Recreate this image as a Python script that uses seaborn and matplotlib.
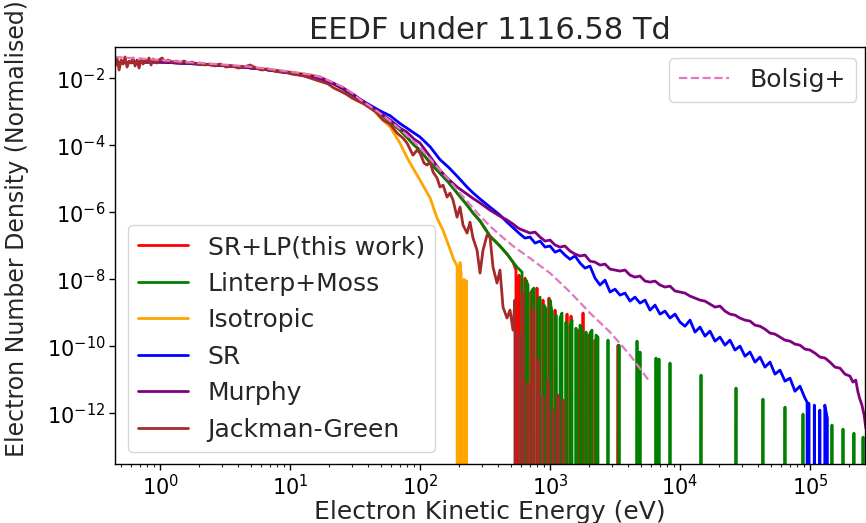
import numpy as np
import pandas as pd
import matplotlib
matplotlib.use("Agg")
import matplotlib.pyplot as plt
import seaborn as sns
from matplotlib.ticker import LogLocator, NullLocator, LogFormatterSciNotation, NullFormatter

# ---------------- data ----------------
title_text = "EEDF under 1116.58 Td"
x_label = "Electron Kinetic Energy (eV)"
y_label = "Electron Number Density (Normalised)"
series_labels = ["SR+LP(this work)", "Linterp+Moss", "Isotropic", "SR", "Murphy", "Jackman-Green"]
bolsig_label = "Bolsig+"
y_ticks = [1e-12, 1e-10, 1e-8, 1e-6, 1e-4, 1e-2]

red_E = [0.45, 0.6, 0.8, 1.0, 1.4, 2.0, 3.0, 4.3, 6.0, 8.0,
         10.5, 14, 17, 21, 25.6, 30, 35, 41, 49, 59,
         70, 79, 90, 100, 120, 142, 165, 193, 230, 256,
         290, 345, 412, 467, 519,
         547, 557, 578, 588, 642, 665, 714, 740, 794, 823,
         883, 916, 982, 1018, 1093, 1132, 1216, 1259, 1351, 1400,
         1451, 1503, 1671, 1731, 1794, 1859, 1995, 2066, 2219, 2299,
         3336, 3396]
red_f = [2.86e-2, 2.97e-2, 3.07e-2, 3.07e-2, 2.86e-2, 2.67e-2, 2.41e-2, 2.17e-2, 1.9e-2, 1.65e-2,
         1.44e-2, 1.21e-2, 1.04e-2, 7.3e-3, 4.8e-3, 3.2e-3, 2.15e-3, 1.4e-3, 9.0e-4, 5.0e-4,
         2.86e-4, 1.77e-4, 1.02e-4, 7.2e-5, 2.96e-5, 1.49e-5, 8.0e-6, 3.77e-6, 1.65e-6, 9.5e-7,
         5.5e-7, 1.96e-7, 9.9e-8, 5.7e-8, 3.28e-8,
         1.9e-8, 0, 1.34e-8, 0, 1.09e-8, 0, 4.2e-9, 0, 5.5e-9, 0,
         2.41e-9, 0, 2.77e-9, 0, 1.21e-9, 0, 7.0e-10, 0, 9.2e-10, 0,
         8.0e-10, 0, 3.07e-10, 0, 9.9e-10, 0, 2.17e-10, 0, 1.54e-10, 0,
         1.09e-10, 0]

green_E = [0.45, 0.6, 0.8, 1.0, 1.4, 2.0, 3.0, 4.3, 6.0, 8.0,
           10.5, 14, 17, 21, 25.6, 30, 35, 41, 49, 59,
           70, 79, 90, 100, 120, 142, 165, 193, 230, 256,
           290, 345, 412, 467, 519, 557,
           588, 609, 631, 654, 677, 702, 727, 753, 780, 809,
           838, 868, 899, 931, 965, 1000, 1036, 1073, 1112, 1152,
           1194, 1236, 1281, 1327, 1375, 1425, 1476, 1529, 1585, 1642,
           1702, 1763, 1826, 1892, 1960, 2031, 2104, 2179, 2258, 2339,
           2425, 2793, 2843, 3396, 3455, 4670, 4753, 4923, 5012, 6535,
           6653, 6890, 7017, 8376, 8531, 14510, 14770, 26970, 27420, 43470,
           44260, 64210, 65360, 88330, 89950, 147600, 150300, 179500, 182800, 217800,
           221900, 255900, 260600]
green_f = [2.86e-2, 2.97e-2, 3.07e-2, 3.07e-2, 2.86e-2, 2.67e-2, 2.41e-2, 2.17e-2, 1.9e-2, 1.65e-2,
           1.44e-2, 1.21e-2, 1.04e-2, 7.3e-3, 4.8e-3, 3.2e-3, 2.15e-3, 1.4e-3, 9.0e-4, 5.0e-4,
           2.86e-4, 1.77e-4, 1.02e-4, 7.2e-5, 2.96e-5, 1.49e-5, 8.0e-6, 3.77e-6, 1.65e-6, 9.5e-7,
           5.5e-7, 1.96e-7, 9.9e-8, 5.7e-8, 3.28e-8, 2.33e-8,
           1.9e-8, 1.65e-8, 0, 9.5e-9, 6.8e-9, 0, 4.8e-9, 5.5e-9, 0, 2.41e-9,
           2.96e-9, 0, 1.71e-9, 1.32e-9, 0, 2.41e-9, 1.06e-9, 0, 8.6e-10, 0,
           7.0e-10, 9.9e-10, 0, 5.3e-10, 0, 4.0e-10, 6.1e-10, 0, 3.5e-10, 0,
           4.3e-10, 3.07e-10, 0, 2.67e-10, 0, 2.5e-10, 3.07e-10, 0, 2.17e-10, 1.9e-10,
           0, 1.54e-10, 0, 1.09e-10, 0, 1.44e-10, 0, 6.8e-11, 0, 4.5e-11,
           0, 4.2e-11, 0, 3.2e-11, 0, 1.39e-11, 0, 5.7e-12, 0, 2.67e-12,
           0, 1.54e-12, 0, 9.5e-13, 0, 4.5e-13, 0, 3.4e-13, 0, 2.58e-13,
           0, 1.96e-13, 0]

orange_E = [0.45, 0.6, 0.8, 1.0, 1.4, 2.0, 3.0, 4.3, 6.0, 8.0,
            10.5, 14, 17, 21, 25.6, 30, 35, 41, 49, 59,
            70, 79, 90, 100, 120, 135, 150, 170, 180, 193,
            196, 203, 207, 209, 218, 220, 228, 231]
orange_f = [2.9e-2, 3.0e-2, 3.1e-2, 3.1e-2, 2.9e-2, 2.7e-2, 2.45e-2, 2.2e-2, 1.95e-2, 1.72e-2,
            1.5e-2, 1.3e-2, 1.12e-2, 7.5e-3, 5.3e-3, 3.5e-3, 2.3e-3, 1.45e-3, 7.0e-4, 3.5e-4,
            1.17e-4, 4.5e-5, 1.83e-5, 9.2e-6, 2.6e-6, 6.8e-7, 2.96e-7, 8.0e-8, 4.2e-8, 2.5e-8,
            0, 3.2e-8, 1.5e-8, 0, 1.0e-8, 0, 9e-9, 0]

blue_E = [0.45, 0.6, 0.8, 1.0, 1.4, 2.0, 3.0, 4.3, 6.0, 8.0,
          10.5, 14, 17, 21, 25.6, 30, 35, 41, 49, 59,
          70, 79, 90, 100, 120, 142, 165, 193, 230, 256,
          290, 345, 412, 467,
          588, 642, 702, 767, 838, 916, 1000, 1093, 1194, 1304,
          1425, 1557, 1702, 1859, 2031, 2219, 2425, 2649, 2895, 3162,
          3455, 3775, 4125, 4506, 4923, 5380, 5878, 6422, 7017, 7666,
          8376, 9151, 10000, 10926, 11937, 13042, 14250, 15569, 17010, 18585,
          20306, 22185, 24239, 26483, 28934, 31623, 34551, 37749, 41244, 45062,
          49234, 53791, 58771, 64212, 70156, 76651, 83747, 91500,
          95000, 96000, 98000, 99500, 108000, 110000, 119000, 121000, 130000, 136000, 138000]
blue_f = [2.86e-2, 2.97e-2, 3.07e-2, 3.07e-2, 2.86e-2, 2.67e-2, 2.41e-2, 2.17e-2, 1.90e-2, 1.62e-2,
          1.38e-2, 1.14e-2, 9.8e-3, 7.3e-3, 5.0e-3, 3.5e-3, 2.3e-3, 1.6e-3, 1.08e-3, 7.6e-4,
          4.5e-4, 3.3e-4, 2.33e-4, 1.77e-4, 8.9e-5, 3.8e-5, 2.25e-5, 1.2e-5, 5.7e-6, 3.8e-6,
          2.5e-6, 1.44e-6, 8.3e-7, 5.1e-7,
          2.25e-7, 1.71e-7, 1.83e-7, 1.21e-7, 1.39e-7, 9.2e-8, 9.9e-8, 6.5e-8, 7.5e-8, 5.3e-8,
          4.0e-8, 5.0e-8, 3.07e-8, 2.17e-8, 2.5e-8, 1.09e-8, 6.8e-9, 9.5e-9, 4.2e-9, 5.1e-9,
          3.4e-9, 3.9e-9, 2.25e-9, 2.96e-9, 1.96e-9, 2.41e-9, 1.21e-9, 1.71e-9, 9.2e-10, 1.13e-9,
          7.0e-10, 9.2e-10, 5.3e-10, 4.0e-10, 6.1e-10, 2.67e-10, 3.77e-10, 2.03e-10, 2.86e-10, 1.44e-10,
          1.9e-10, 1.09e-10, 1.54e-10, 7.8e-11, 1.02e-10, 5.1e-11, 6.8e-11, 3.4e-11, 4.8e-11, 2.41e-11,
          3.4e-11, 1.49e-11, 1.96e-11, 9.2e-12, 1.13e-11, 4.6e-12, 6.5e-12, 2.86e-12,
          2.17e-12, 0, 2.0e-12, 0, 1.77e-12, 0, 1.26e-12, 0, 1.77e-12, 7.2e-13, 0]

purple_E = [0.45, 0.6, 0.8, 1.0, 1.4, 2.0, 3.0, 4.3, 6.0, 8.0,
            10.5, 14, 17, 21, 25.6, 30, 35, 41, 49, 59,
            70, 79, 90, 100, 105, 120, 142, 165, 193, 230,
            256, 290, 345, 412, 467, 519, 557,
            588, 642, 702, 767, 838, 916, 1000, 1093, 1194, 1304,
            1425, 1557, 1702, 1859, 2031, 2219, 2425, 2649, 2895, 3162,
            3455, 3775, 4125, 4506, 4923, 5380, 5878, 6422, 7017, 7666,
            8376, 9151, 10000, 10926, 11937, 13042, 14250, 15569, 17010, 18585,
            20306, 22185, 24239, 26483, 28934, 31623, 34551, 37749, 41244, 45062,
            49234, 53791, 58771, 64212, 70156, 76651, 83747, 91500, 100000, 109260,
            119370, 130420, 142500, 155690, 170100, 185850, 203060,
            214000, 225000, 234000, 242000, 251000, 261000, 269000]
purple_f = [2.9e-2, 3.0e-2, 3.07e-2, 3.07e-2, 2.9e-2, 2.7e-2, 2.43e-2, 2.19e-2, 1.92e-2, 1.66e-2,
            1.44e-2, 1.22e-2, 1.04e-2, 7.5e-3, 5.0e-3, 3.4e-3, 2.25e-3, 1.5e-3, 9.2e-4, 5.7e-4,
            3.3e-4, 2.5e-4, 1.54e-4, 1.17e-4, 9.0e-5, 4.5e-5, 1.83e-5, 9.9e-6, 5.7e-6, 3.5e-6,
            2.6e-6, 1.9e-6, 1.17e-6, 7.7e-7, 5.9e-7, 4.5e-7, 3.6e-7,
            3.18e-7, 2.77e-7, 2.41e-7, 2.58e-7, 1.83e-7, 1.39e-7, 1.49e-7, 1.06e-7, 9.2e-8, 9.9e-8,
            7.0e-8, 5.7e-8, 5.0e-8, 5.3e-8, 3.5e-8, 3.28e-8, 2.67e-8, 2.86e-8, 2.03e-8, 1.9e-8,
            1.77e-8, 1.9e-8, 1.34e-8, 1.17e-8, 1.26e-8, 8.9e-9, 8.3e-9, 8.9e-9, 6.8e-9, 5.9e-9,
            6.3e-9, 4.5e-9, 4.2e-9, 3.9e-9, 3.17e-9, 2.77e-9, 2.41e-9, 2.25e-9, 1.83e-9, 1.49e-9,
            1.6e-9, 1.13e-9, 9.2e-10, 8.6e-10, 7.0e-10, 6.1e-10, 5.7e-10, 4.3e-10, 4.0e-10, 3.28e-10,
            2.5e-10, 2.33e-10, 1.9e-10, 1.54e-10, 1.44e-10, 1.17e-10, 1.09e-10, 8.3e-11, 7.8e-11, 6.3e-11,
            4.8e-11, 4.5e-11, 3.4e-11, 2.41e-11, 2.25e-11, 1.49e-11, 1.3e-11,
            8.6e-12, 9.9e-12, 4.3e-12, 2.67e-12, 1.77e-12, 8.9e-13, 3.6e-13]

brown_E = [0.451, 0.467, 0.484, 0.501, 0.519, 0.538, 0.557, 0.578, 0.598, 0.620,
           0.642, 0.665, 0.689, 0.714, 0.740, 0.767, 0.794, 0.823, 0.853, 0.884,
           0.915, 0.948, 0.982, 1.036, 1.093, 1.152, 1.237, 1.328, 1.425, 1.530,
           1.642, 1.763, 1.892, 2.031, 2.219, 2.424, 2.649, 2.895, 3.219, 3.580,
           3.981, 4.427, 4.923, 5.475, 6.088, 6.770, 7.529, 8.373, 9.311, 10.35,
           11.52, 12.81, 14.25, 15.85, 17.62, 19.60, 21.79, 24.24, 26.95, 29.97,
           33.33, 37.07, 41.22, 45.84, 51.9, 58.8, 66.5, 74.0, 79.4, 88.3,
           94.8, 100, 107.3, 113.2, 119.4, 125.9, 135.2, 142.5, 150.3, 161.4,
           170.1, 179.4, 192.6, 203.1, 214.1, 230.0, 242.4, 255.6, 274.4, 289.4,
           305.2, 327.6, 345.4, 364.2, 391.0, 412.3, 434.8, 466.8, 492.2, 519.0,
           537.0, 547, 577.6, 598.5, 619.9, 642.1, 677.0, 701.8, 740.0, 767.0,
           808.7, 838, 883.4, 915.7, 965.5, 1000, 1054, 1093, 1152, 1194,
           1259, 1304]
brown_f = [2.33e-2, 4.04e-2, 1.77e-2, 3.52e-2, 2.67e-2, 4.33e-2, 2.17e-2, 3.28e-2, 2.86e-2, 4.04e-2,
           2.33e-2, 3.52e-2, 2.03e-2, 3.77e-2, 2.67e-2, 3.52e-2, 3.07e-2, 4.04e-2, 2.50e-2, 3.77e-2,
           3.28e-2, 2.86e-2, 3.52e-2, 4.04e-2, 3.07e-2, 3.52e-2, 3.07e-2, 3.28e-2, 2.86e-2, 3.28e-2,
           2.86e-2, 3.07e-2, 2.67e-2, 2.86e-2, 2.50e-2, 2.67e-2, 2.33e-2, 2.67e-2, 2.17e-2, 2.33e-2,
           2.03e-2, 2.17e-2, 2.50e-2, 2.03e-2, 1.77e-2, 1.90e-2, 1.65e-2, 1.54e-2, 1.54e-2, 1.34e-2,
           1.26e-2, 1.17e-2, 1.02e-2, 8.9e-3, 7.8e-3, 6.8e-3, 5.1e-3, 4.2e-3, 3.4e-3, 2.58e-3,
           2.10e-3, 1.71e-3, 1.30e-3, 9.9e-4, 5.7e-4, 4.3e-4, 2.33e-4, 1.65e-4, 1.17e-4, 5.1e-5,
           7.2e-5, 5.9e-5, 2.96e-5, 2.58e-5, 3.17e-5, 1.60e-5, 1.06e-5, 5.7e-6, 6.5e-6, 2.86e-6,
           3.77e-6, 2.33e-6, 7.2e-7, 1.44e-6, 4.2e-7, 2.41e-7, 5.1e-7, 1.71e-7, 7.5e-8, 1.54e-8,
           7.5e-8, 2.1e-7, 1.83e-7, 2.33e-8, 7.8e-9, 1.9e-8, 1.49e-9, 7.0e-10, 1.21e-9, 3.07e-10,
           2.41e-9, 0, 2.5e-10, 0, 3.9e-9, 0, 8.0e-12, 0, 1.21e-9, 0,
           3.9e-11, 0, 3.07e-12, 0, 9.9e-12, 0, 1.26e-12, 0, 3.5e-12, 0,
           2.5e-12, 0]

pink_E = [0.45, 0.6, 0.8, 1.0, 1.4, 2.0, 3.0, 4.3, 6.0, 8.0,
          10.5, 14, 17, 21, 25.6, 30, 35, 41, 49, 59,
          70, 79, 90, 100, 120, 142, 165, 193, 230, 290,
          345, 412, 519, 700, 1000, 1425, 2031, 2895, 4125, 5878]
pink_f = [4.33e-2, 4.04e-2, 3.77e-2, 3.52e-2, 3.17e-2, 2.86e-2, 2.58e-2, 2.33e-2, 2.03e-2, 1.77e-2,
          1.54e-2, 1.3e-2, 1.1e-2, 7.8e-3, 5.5e-3, 3.64e-3, 2.25e-3, 1.5e-3, 9.2e-4, 5.3e-4,
          3.07e-4, 2.0e-4, 1.26e-4, 8.3e-5, 3.9e-5, 1.83e-5, 9.9e-6, 4.6e-6, 2.17e-6, 7.7e-7,
          3.9e-7, 2.1e-7, 9.9e-8, 4.3e-8, 1.54e-8, 4.2e-9, 9.9e-10, 2.67e-10, 5.5e-11, 8.6e-12]

# ---------------- styling ----------------
sns.set_theme(style="ticks")
plt.rcParams["font.family"] = ["DejaVu Sans"]
plt.rcParams["mathtext.fontset"] = "dejavusans"

fig = plt.figure(figsize=(8.66, 5.23), dpi=100)
ax = fig.add_axes([115 / 866, 59 / 523, 750 / 866, 417 / 523])

series = [
    (red_E, red_f, "red"),
    (green_E, green_f, "green"),
    (orange_E, orange_f, "orange"),
    (blue_E, blue_f, "blue"),
    (purple_E, purple_f, "purple"),
    (brown_E, brown_f, "brown"),
]
handles = []
for E, f, c in series:
    df = pd.DataFrame({"E": E, "f": f})
    sns.lineplot(data=df, x="E", y="f", ax=ax, color=c, linewidth=2.0,
                 estimator=None, sort=False, legend=False)
    handles.append(ax.lines[-1])

df_b = pd.DataFrame({"E": pink_E, "f": pink_f})
sns.lineplot(data=df_b, x="E", y="f", ax=ax, color="tab:pink", linewidth=1.6,
             linestyle="--", estimator=None, sort=False, legend=False)
bolsig_line = ax.lines[-1]

ax.set_xscale("log")
ax.set_yscale("log")
ax.set_xlim(0.45, 2.65e5)
ax.set_ylim(3.1e-14, 8.6e-2)

ax.xaxis.set_major_locator(LogLocator(base=10, numticks=12))
ax.xaxis.set_minor_locator(LogLocator(base=10, subs=np.arange(2, 10), numticks=12))
ax.xaxis.set_minor_formatter(NullFormatter())
ax.set_yticks(y_ticks)
ax.yaxis.set_major_formatter(LogFormatterSciNotation())
ax.yaxis.set_minor_locator(NullLocator())
ax.tick_params(axis="both", which="major", labelsize=15, length=4, width=1, colors="black", pad=3)
ax.tick_params(axis="x", which="minor", length=2.5, width=0.8)

for s in ax.spines.values():
    s.set_visible(True)
    s.set_color("black")
    s.set_linewidth(1.0)

ax.set_title(title_text, fontsize=22, pad=6)
ax.set_xlabel(x_label, fontsize=18, labelpad=1)
ax.set_ylabel(y_label, fontsize=17)
ax.yaxis.set_label_coords(-0.115, 0.565)

leg1 = ax.legend(handles=handles, labels=series_labels, loc="lower left",
                 fontsize=18, labelspacing=0.5, borderaxespad=0.5)
ax.add_artist(leg1)
ax.legend(handles=[bolsig_line], labels=[bolsig_label], loc="upper right",
          fontsize=18, bbox_to_anchor=(1.004, 1.004))

fig.savefig("out.png", dpi=100)
